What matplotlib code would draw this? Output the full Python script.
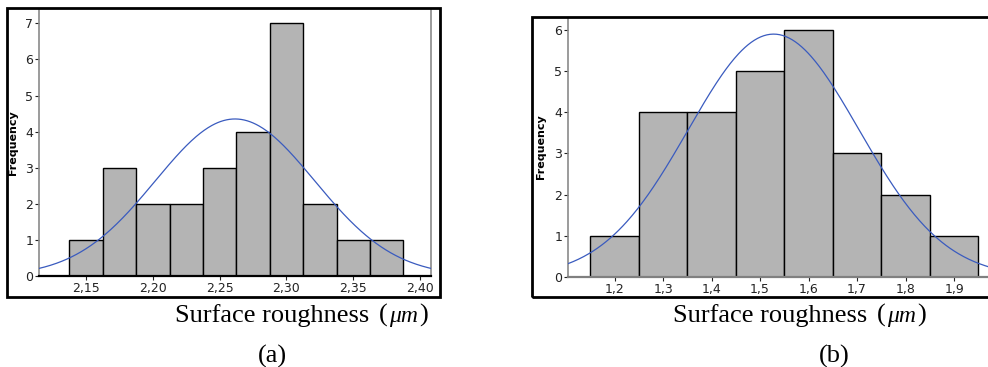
import numpy as np
import matplotlib
matplotlib.use("Agg")
import matplotlib.pyplot as plt
from matplotlib.patches import Rectangle

# panel (a)
centers_a = [2.150, 2.175, 2.200, 2.225, 2.250, 2.275, 2.300, 2.325, 2.350, 2.375]
counts_a = [1, 3, 2, 2, 3, 4, 7, 2, 1, 1]
width_a = 0.025
mean_a, std_a = 2.2615, 0.0596
xticks_a = [2.15, 2.20, 2.25, 2.30, 2.35, 2.40]
xticklabels_a = ["2,15", "2,20", "2,25", "2,30", "2,35", "2,40"]

# panel (b)
centers_b = [1.2, 1.3, 1.4, 1.5, 1.6, 1.7, 1.8, 1.9]
counts_b = [1, 4, 4, 5, 6, 3, 2, 1]
width_b = 0.1
mean_b, std_b = 1.528, 0.176
xticks_b = [1.2, 1.3, 1.4, 1.5, 1.6, 1.7, 1.8, 1.9]
xticklabels_b = ["1,2", "1,3", "1,4", "1,5", "1,6", "1,7", "1,8", "1,9"]

W, H = 988, 367
fig = plt.figure(figsize=(W / 100, H / 100), dpi=100)


def px(x0, y0, x1, y1):
    # pixel box (top-left origin) -> figure fraction
    return [x0 / W, (H - y1) / H, (x1 - x0) / W, (y1 - y0) / H]


def normal_curve(ax, mean, std, n, w, xlim):
    x = np.linspace(xlim[0], xlim[1], 400)
    y = n * w / (std * np.sqrt(2 * np.pi)) * np.exp(-(x - mean) ** 2 / (2 * std ** 2))
    ax.plot(x, y, color="#3a5bbf", lw=0.9, zorder=3)


def style(ax, bottom_color):
    ax.spines["top"].set_visible(False)
    ax.spines["left"].set_color("#8a8a8a")
    ax.spines["left"].set_linewidth(1.2)
    ax.spines["bottom"].set_color(bottom_color)
    ax.spines["bottom"].set_linewidth(1.6)
    ax.tick_params(direction="out", length=3, width=0.8, labelsize=9, pad=1,
                   colors="#222222")


# (a)
ax1 = fig.add_axes(px(39, 10, 431, 276))
xlim_a = (2.1148, 2.4082)
ax1.bar(centers_a, counts_a, width=width_a, color="#b4b4b4", edgecolor="black", lw=1, zorder=2)
normal_curve(ax1, mean_a, std_a, sum(counts_a), width_a, xlim_a)
ax1.set_xlim(xlim_a)
ax1.set_ylim(0, 7.37)
ax1.set_xticks(xticks_a)
ax1.set_xticklabels(xticklabels_a)
ax1.set_yticks(range(0, 8))
style(ax1, "black")
ax1.spines["right"].set_color("#8a8a8a")
ax1.spines["right"].set_linewidth(1.2)

# (b)
ax2 = fig.add_axes(px(568, 19, 988, 277))
xlim_b = (1.104, 1.970)
ax2.bar(centers_b, counts_b, width=width_b, color="#b4b4b4", edgecolor="black", lw=1, zorder=2)
normal_curve(ax2, mean_b, std_b, sum(counts_b), width_b, xlim_b)
ax2.set_xlim(xlim_b)
ax2.set_ylim(0, 6.26)
ax2.set_xticks(xticks_b)
ax2.set_xticklabels(xticklabels_b)
ax2.set_yticks(range(0, 7))
style(ax2, "#808080")
ax2.spines["right"].set_visible(False)

# outer frames
fig.patches.append(Rectangle((7 / W, (H - 297) / H), 433 / W, 289 / H, fill=False,
                             lw=2, edgecolor="black", transform=fig.transFigure))
fig.patches.append(Rectangle((532 / W, (H - 297) / H), 500 / W, 280 / H, fill=False,
                             lw=2, edgecolor="black", transform=fig.transFigure))

# y labels
fig.text(13 / W, (H - 143) / H, "Frequency", rotation=90, ha="center", va="center",
         fontsize=8, fontweight="bold")
fig.text(541 / W, (H - 147) / H, "Frequency", rotation=90, ha="center", va="center",
         fontsize=8, fontweight="bold")

# x labels and panel tags, pieces placed one after another
serif = "Liberation Serif"
renderer = fig.canvas.get_renderer()
for x0, tag_x, tag in [(175, 272, "(a)"), (673, 834, "(b)")]:
    x = x0
    for s, st, fs, gap in [("Surface roughness", "normal", 19, 10),
                           ("(", "normal", 19, 1),
                           ("μm", "italic", 17, 1),
                           (")", "normal", 19, 0)]:
        t = fig.text(x / W, (H - 322) / H, s, family=serif, style=st, fontsize=fs,
                     ha="left", va="baseline")
        x += t.get_window_extent(renderer).width + gap
    fig.text(tag_x / W, (H - 363) / H, tag, family=serif, fontsize=19, ha="center",
             va="baseline")

fig.savefig("out.png", dpi=100)
